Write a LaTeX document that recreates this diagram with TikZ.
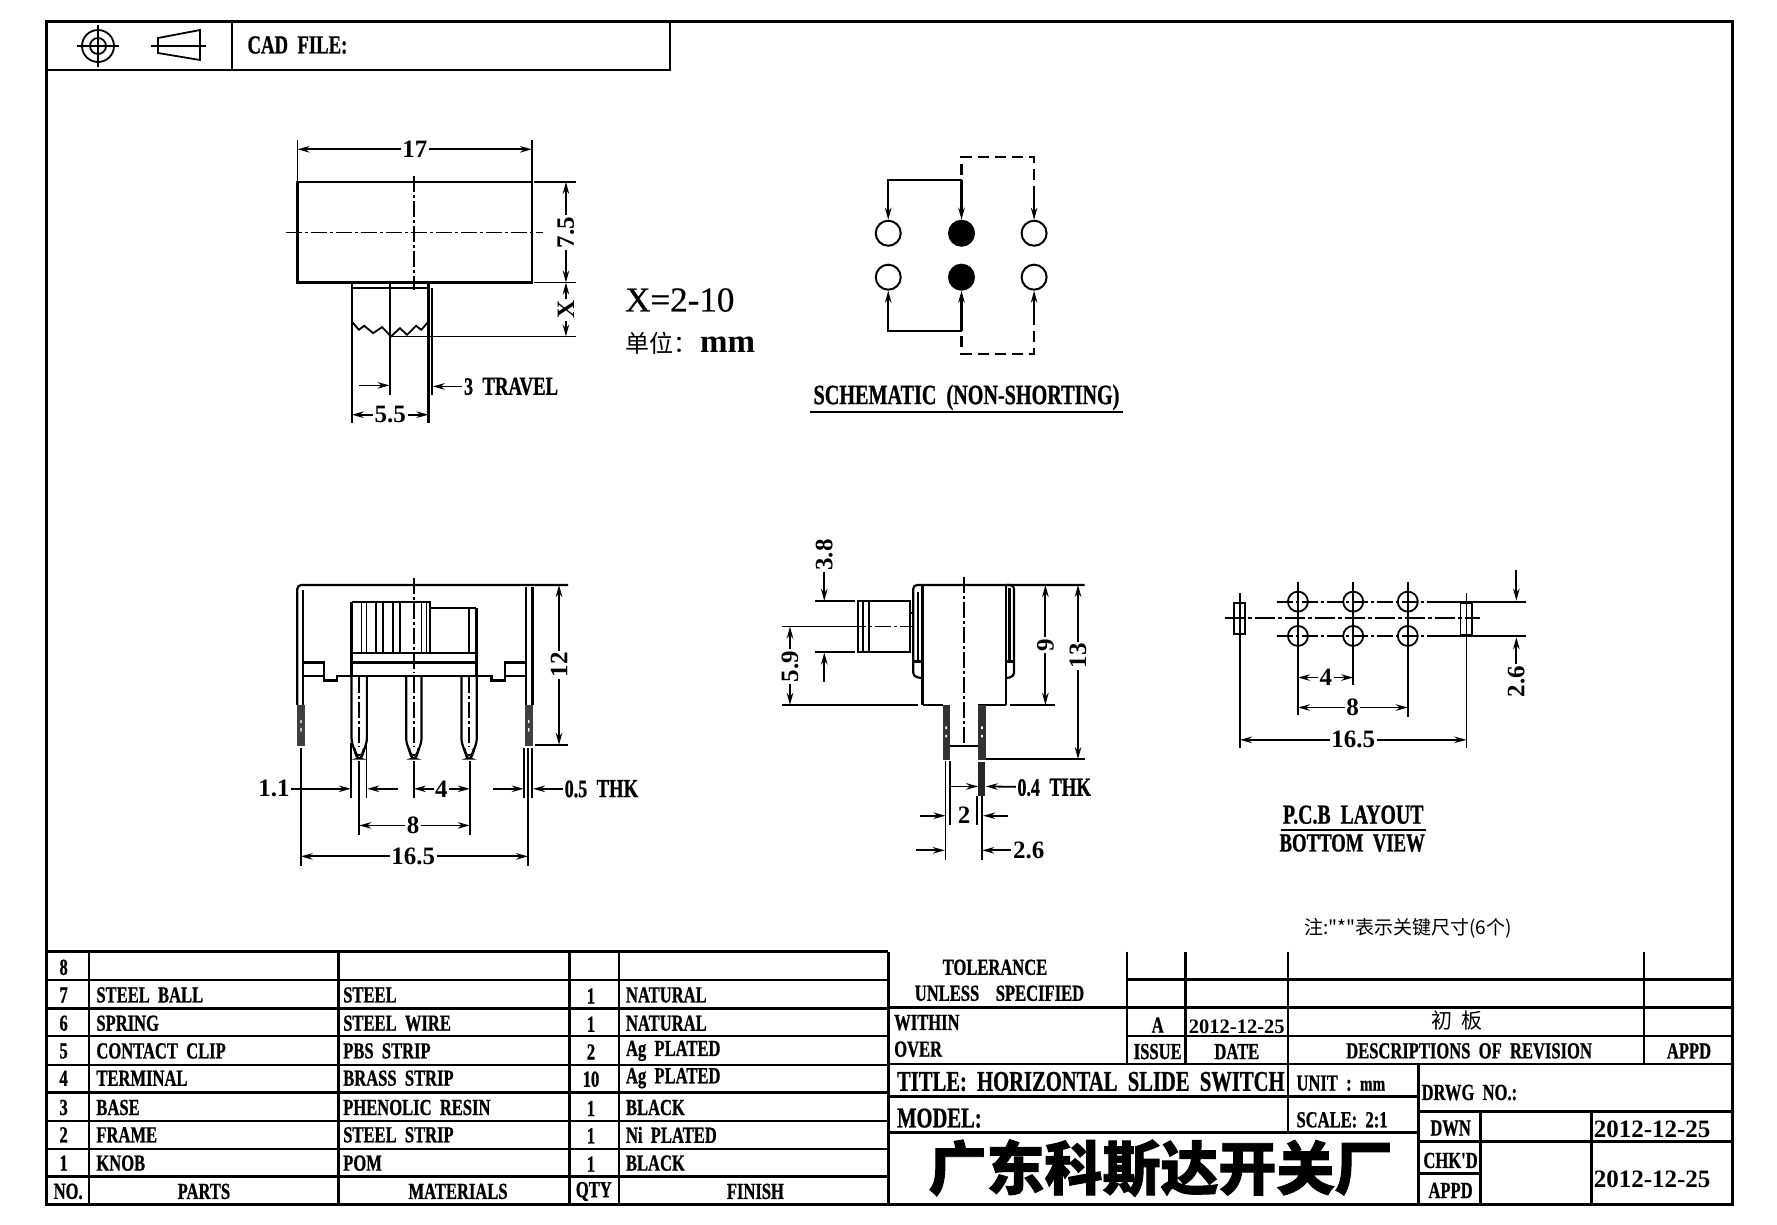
\documentclass[tikz,border=0pt]{standalone}
\usepackage{fontspec}
\setmainfont{Liberation Serif}
\newfontfamily\narrowfont[FakeStretch=0.72, BoldFeatures={FakeBold=0.8}]{Liberation Serif}
\newfontfamily\medfont[FakeBold=0.5]{Liberation Serif}
\newfontfamily\cjkfont[BoldFeatures={FakeBold=1.6}]{Noto Sans CJK SC}
\usetikzlibrary{arrows.meta, positioning, calc}

\begin{document}
\begin{tikzpicture}[x=1pt, y=-1pt, line cap=butt]
        \tikzset{
            partline/.style={line width=2.2pt},
            gridline/.style={line width=2.6pt},
            thinline/.style={line width=1.8pt},
            cenline/.style={line width=1.8pt, dash pattern=on 16pt off 3pt on 3pt off 3pt},
            dimarrow/.style={line width=1.8pt, -{Stealth[length=12pt, width=6.5pt]}},
            dimnum/.style={font=\bfseries\fontsize{25}{25}\selectfont, inner sep=1.5pt},
            dimtext/.style={font=\narrowfont\bfseries\fontsize{26}{26}\selectfont, inner sep=1.5pt, anchor=west},
            capt/.style={font=\narrowfont\bfseries\fontsize{27.5}{27.5}\selectfont, inner sep=0pt},
            cell/.style={font=\narrowfont\bfseries\fontsize{23}{23}\selectfont, inner sep=0pt},
            cellL/.style={cell, anchor=west},
            bigcell/.style={font=\narrowfont\bfseries\fontsize{28.6}{28.6}\selectfont, inner sep=0pt, anchor=west},
            datecell/.style={font=\bfseries\fontsize{25}{25}\selectfont, inner sep=0pt, anchor=west}
        }
        \useasboundingbox (0,0) rectangle (1777,1224);

        % --- SHEET FRAME ---
        \draw[line width=3pt] (46,21) rectangle (1732,1204);
        \draw[gridline] (46,70) -- (670,70) -- (670,21);
        \draw[gridline] (232,21) -- (232,70);
        \node[font=\narrowfont\bfseries\fontsize{26}{26}\selectfont, anchor=west] (cadfile) at (244,45) {CAD\ \ FILE:};

        % projection symbol
        \draw[thinline] (98,46) circle (16) (98,46) circle (8);
        \draw[thinline] (77,46) -- (119,46) (98,25) -- (98,67);
        \draw[thinline] (158,38) -- (200,30) -- (200,60) -- (158,53) -- cycle;
        \draw[thinline] (151,46) -- (206,46);

        % --- TOP VIEW ---
        \begin{scope}[shift={(250,120)}, x=0.357pt, y=-0.333pt]
            \draw[partline] (133,186) rectangle (790,488);
            \draw[cenline] (100,338) -- (822,338);
            \draw[cenline] (460,168) -- (460,510);
            \draw[thinline] (133,60) -- (133,186) (790,60) -- (790,186);
            \draw[thinline] (795,186) -- (912,186) (795,488) -- (912,488) (395,650) -- (912,650);
            \draw[partline] (285,488) -- (285,910) (500,488) -- (500,910) (285,505) -- (500,505);
            \draw[line width=2.8pt] (510,505) -- (510,825);
            \draw[thinline] (393,488) -- (393,825);
            \draw[thinline] (285,605) -- (305,630) -- (320,618) -- (345,640) -- (370,622) -- (395,650) -- (420,625) -- (440,645) -- (465,618) -- (480,630) -- (500,605);

            \node[dimnum] (wide) at (462,88) {17};
            \draw[dimarrow] (wide) -- (133,88);
            \draw[dimarrow] (wide) -- (790,88);
            \node[dimnum, rotate=90] (high) at (885,338) {7.5};
            \draw[dimarrow] (high) -- (885,186);
            \draw[dimarrow] (high) -- (885,488);
            \node[dimnum, rotate=90] (xlen) at (885,570) {X};
            \draw[dimarrow] (xlen) -- (885,488);
            \draw[dimarrow] (xlen) -- (885,650);
            \node[dimnum] (knob) at (393,885) {5.5};
            \draw[dimarrow] (knob) -- (285,885);
            \draw[dimarrow] (knob) -- (500,885);
            \node[dimtext] (travel) at (595,800) {{\bfseries\fontsize{25}{25}\selectfont 3}\ \ TRAVEL};
            \draw[dimarrow] (travel) -- (512,800);
            \coordinate (travelL) at (305,797);
            \draw[dimarrow] (travelL) -- (391,797);
        \end{scope}

        \node[font=\medfont\fontsize{35}{35}\selectfont, anchor=west, inner sep=0pt] (xrange) at (625,300) {X=2-10};
        \node[anchor=west, inner sep=0pt] (unit) at (625,343) {{\cjkfont\fontsize{24}{24}\selectfont 单位：}\kern3pt{\bfseries\fontsize{33}{33}\selectfont mm}};

        % --- SCHEMATIC ---
        \begin{scope}[shift={(800,130)}, x=0.333pt, y=-0.333pt]
            \foreach \cx/\fillc in {265/white, 485/black, 703/white}
                \foreach \cy/\rr in {310/t, 442/b}
                    \node[draw, circle, line width=2pt, fill=\fillc, minimum size=25pt, inner sep=0pt] (pole\cx\rr) at (\cx,\cy) {};
            \draw[dimarrow, partline] (485,150) -| (pole265t);
            \draw[dimarrow, partline] (485,150) -- (pole485t);
            \draw[dimarrow, partline] (485,603) -| (pole265b);
            \draw[dimarrow, partline] (485,603) -- (pole485b);
            \draw[partline, dash pattern=on 11pt off 6pt] (485,135) |- (703,82) -- (703,200);
            \draw[partline, dash pattern=on 11pt off 6pt] (485,618) |- (703,672) -- (703,560);
            \draw[dimarrow] (703,200) -- (pole703t);
            \draw[dimarrow] (703,560) -- (pole703b);
            \node[capt, font=\narrowfont\bfseries\fontsize{28}{28}\selectfont] (schem) at (500,803) {SCHEMATIC\ \ (NON-SHORTING)};
            \draw[partline] (30,847) -- (970,847);
        \end{scope}

        % --- FRONT VIEW ---
        \begin{scope}[shift={(250,570)}, x=0.333pt, y=-0.333pt]
            \draw[partline, rounded corners=4pt] (142,405) -- (142,45) -- (955,45);
            \draw[partline] (160,405) -- (160,60);
            \draw[partline] (828,405) -- (828,50);
            \draw[line width=2.8pt] (848,405) -- (848,50);
            \foreach \tx in {142, 826} {
                \fill[black!75] (\tx,405) rectangle ++(23,123);
                \fill[white] (\tx+9,450) rectangle ++(4,10) (\tx+9,475) rectangle ++(4,10);
            }
            % base
            \draw[partline] (160,318) -- (222,318) (160,278) -- (222,278) -- (222,332) -- (262,332) -- (262,318) -- (725,318) -- (725,332) -- (765,332) -- (765,278) -- (828,278) (765,318) -- (828,318);
            \draw[partline] (305,97) -- (305,318) (680,113) -- (680,318) (305,278) -- (680,278) (305,250) -- (680,250);
            % knob
            \draw[partline] (305,97) -- (540,97) -- (540,250) (540,113) -- (680,113) (658,113) -- (658,250);
            \foreach \rx in {335, 350, 378, 400, 430, 450, 515, 530}
                \draw[thinline] (\rx,97) -- (\rx,250);
            \draw[cenline] (492,25) -- (492,310);
            % pins
            \foreach \cx in {328, 492, 658} {
                \draw[partline, rounded corners=3pt] (\cx-23,318) -- (\cx-23,515) -- (\cx-6,566) -- (\cx+6,566) -- (\cx+23,515) -- (\cx+23,318);
                \draw[thinline] (\cx-14,535) .. controls (\cx-8,556) .. (\cx,556) .. controls (\cx+8,556) .. (\cx+14,535);
                \draw[cenline] (\cx,320) -- (\cx,530);
            }
            % extension lines
            \draw[thinline] (152,535) -- (152,890) (835,535) -- (835,890) (822,535) -- (822,685) (848,535) -- (848,685);
            \draw[thinline] (303,520) -- (303,685) (350,520) -- (350,685) (328,575) -- (328,795) (660,575) -- (660,795) (492,575) -- (492,685);
            \draw[thinline] (855,525) -- (955,525);

            \node[dimnum] (pitchA) at (72,657) {1.1};
            \draw[dimarrow] (pitchA) -- (303,657);
            \coordinate (pitchB) at (445,657);
            \draw[dimarrow] (pitchB) -- (352,657);
            \node[dimnum] (pinfour) at (575,657) {4};
            \draw[dimarrow] (pinfour) -- (492,657);
            \draw[dimarrow] (pinfour) -- (660,657);
            \coordinate (thkL) at (730,657);
            \draw[dimarrow] (thkL) -- (822,657);
            \node[dimtext] (thk) at (940,657) {{\bfseries\fontsize{25}{25}\selectfont 0.5}\ \ THK};
            \draw[dimarrow] (thk) -- (850,657);
            \node[dimnum] (pineight) at (490,767) {8};
            \draw[dimarrow] (pineight) -- (328,767);
            \draw[dimarrow] (pineight) -- (660,767);
            \node[dimnum] (span) at (490,860) {16.5};
            \draw[dimarrow] (span) -- (152,860);
            \draw[dimarrow] (span) -- (835,860);
            \node[dimnum, rotate=90] (height) at (928,285) {12};
            \draw[dimarrow] (height) -- (928,45);
            \draw[dimarrow] (height) -- (928,525);
        \end{scope}

        % --- SIDE VIEW ---
        \begin{scope}[shift={(770,530)}, x=0.333pt, y=-0.333pt]
            \draw[partline] (458,165) -- (458,525) (708,165) -- (708,525);
            \draw[partline, rounded corners=4pt] (458,445) -- (430,440) -- (430,165) -- (945,165);
            \draw[partline, rounded corners=4pt] (708,445) -- (733,440) -- (733,165) -- (708,165);
            \draw[partline] (445,185) -- (445,395) (430,395) -- (458,395);
            \draw[line width=2.8pt] (720,175) -- (720,395);
            \draw[partline] (708,395) -- (733,395);
            \draw[partline] (35,525) -- (445,525) (458,525) -- (520,525) (625,525) -- (708,525) (720,525) -- (855,525);
            % knob
            \draw[partline] (265,213) rectangle (420,367);
            \draw[thinline] (280,213) -- (280,367) (298,213) -- (298,367) (420,250) -- (430,250);
            \draw[thinline] (135,213) -- (255,213) (135,367) -- (255,367);
            \draw[thinline] (35,290) -- (240,290);
            \draw[cenline] (240,290) -- (430,290);
            \draw[cenline] (583,140) -- (583,640);
            % terminals
            \fill[black!80] (520,525) rectangle (540,690);
            \fill[black!80] (625,525) rectangle (648,690);
            \fill[black!85] (625,697) rectangle (645,800);
            \fill[white] (527,590) rectangle ++(5,8) (527,615) rectangle ++(5,8) (634,590) rectangle ++(5,8) (634,615) rectangle ++(5,8);
            \draw[partline] (540,648) -- (625,648);
            \draw[thinline] (527,695) -- (527,990) (540,695) -- (540,885) (622,800) -- (622,885) (637,800) -- (637,990);
            \draw[thinline] (650,688) -- (945,688);

            \node[dimnum, rotate=90] (knobA) at (163,75) {3.8};
            \draw[dimarrow] (knobA) -- (163,213);
            \coordinate (knobB) at (163,455);
            \draw[dimarrow] (knobB) -- (163,368);
            \node[dimnum, rotate=90] (knobC) at (60,410) {5.9};
            \draw[dimarrow] (knobC) -- (60,290);
            \draw[dimarrow] (knobC) -- (60,525);
            \node[dimnum, rotate=90] (sideA) at (827,345) {9};
            \draw[dimarrow] (sideA) -- (827,165);
            \draw[dimarrow] (sideA) -- (827,525);
            \node[dimnum, rotate=90] (sideB) at (925,378) {13};
            \draw[dimarrow] (sideB) -- (925,165);
            \draw[dimarrow] (sideB) -- (925,688);
            \coordinate (thinL) at (540,770);
            \draw[dimarrow] (thinL) -- (625,770);
            \node[dimtext] (thin) at (738,773) {{\bfseries\fontsize{25}{25}\selectfont 0.4}\ \ THK};
            \draw[dimarrow] (thin) -- (648,770);
            \node[dimnum] (legA) at (583,858) {2};
            \coordinate (legAL) at (450,858);
            \coordinate (legAR) at (715,858);
            \draw[dimarrow] (legAL) -- (527,858);
            \draw[dimarrow] (legAR) -- (640,858);
            \coordinate (legBL) at (438,962);
            \draw[dimarrow] (legBL) -- (525,962);
            \node[dimnum, anchor=west] (legB) at (725,962) {2.6};
            \draw[dimarrow] (legB) -- (637,962);
        \end{scope}

        % --- PCB LAYOUT ---
        \begin{scope}[shift={(1210,560)}, x=0.333pt, y=-0.333pt]
            \draw[thinline] (72,128) rectangle (105,222) (752,128) rectangle (787,225);
            \draw[line width=2.4pt, dash pattern=on 20pt off 3pt on 4pt off 3pt] (45,175) -- (810,175);
            \draw[cenline] (200,125) -- (665,125) (200,228) -- (665,228);
            \draw[thinline] (665,125) -- (950,125) (665,228) -- (950,228);
            \foreach \cx in {264, 430, 594}
                \foreach \cy in {125, 228}
                    \node[draw, circle, thinline, minimum size=20pt, inner sep=0pt] (hole\cx\cy) at (\cx,\cy) {};
            \draw[thinline] (264,65) -- (264,465) (430,65) -- (430,375) (594,65) -- (594,470);
            \draw[thinline] (90,100) -- (90,565) (770,100) -- (770,565);

            \node[dimnum] (gapA) at (348,353) {4};
            \draw[dimarrow] (gapA) -- (264,353);
            \draw[dimarrow] (gapA) -- (430,353);
            \node[dimnum] (gapB) at (428,443) {8};
            \draw[dimarrow] (gapB) -- (264,443);
            \draw[dimarrow] (gapB) -- (594,443);
            \node[dimnum] (gapC) at (430,540) {16.5};
            \draw[dimarrow] (gapC) -- (90,540);
            \draw[dimarrow] (gapC) -- (770,540);
            \coordinate (rowT) at (920,30);
            \draw[dimarrow] (rowT) -- (920,122);
            \node[dimnum, rotate=90] (rowB) at (920,365) {2.6};
            \draw[dimarrow] (rowB) -- (920,232);
            \node[capt] (layout) at (430,765) {P.C.B\ \ LAYOUT};
            \node[capt, font=\narrowfont\bfseries\fontsize{26}{26}\selectfont] (bottom) at (427,850) {BOTTOM\ \ VIEW};
            \draw[partline] (212,811) -- (650,811);
        \end{scope}

        \node[font=\cjkfont\fontsize{19}{19}\selectfont, inner sep=0pt] (keynote) at (1408,928) {注:"*"表示关键尺寸(6个)};

        % --- PARTS TABLE ---
        \begin{scope}[shift={(30,950)}, x=0.561pt, y=-0.333pt]
            \foreach \ry in {5, 90, 175, 258, 345, 428, 513, 597, 680}
                \draw[gridline] (28,\ry) -- (1530,\ry);
            \foreach \cx in {105, 550, 962, 1050, 1530}
                \draw[gridline] (\cx,5) -- (\cx,762);
            \foreach \ry/\no/\part/\mat/\qty/\fin in {
                52/8///,
                135/7/STEEL\ \ BALL/STEEL/1/NATURAL,
                220/6/SPRING/STEEL\ \ WIRE/1/NATURAL,
                303/5/CONTACT\ \ CLIP/PBS\ \ STRIP/2/Ag\ \ PLATED,
                385/4/TERMINAL/BRASS\ \ STRIP/10/Ag\ \ PLATED,
                473/3/BASE/PHENOLIC\ \ RESIN/1/BLACK,
                555/2/FRAME/STEEL\ \ STRIP/1/Ni\ \ PLATED,
                640/1/KNOB/POM/1/BLACK}
            {
                \node[cell] (no\no) at (60,\ry) {\no};
                \node[cellL] (part\no) at (118,\ry) {\part};
                \node[cellL] (mat\no) at (558,\ry) {\mat};
                \node[cell] (qty\no) at (1000,\ry+3) {\qty};
                \node[cellL] (fin\no) at (1062,\ry) {\fin};
            }
            \node[cell] (headno) at (68,725) {NO.};
            \node[cell] (headpart) at (310,725) {PARTS};
            \node[cell] (headmat) at (763,725) {MATERIALS};
            \node[cell] (headqty) at (1005,725) {QTY};
            \node[cell] (headfin) at (1293,725) {FINISH};
        \end{scope}

        % --- TITLE BLOCK ---
        \begin{scope}[shift={(880,950)}, x=0.561pt, y=-0.333pt]
            \foreach \ry in {88, 172, 258}
                \draw[gridline] (440,\ry) -- (1518,\ry);
            \draw[gridline] (14,172) -- (440,172) (14,342) -- (1518,342);
            \foreach \cx in {440, 545, 727}
                \draw[gridline] (\cx,5) -- (\cx,342);
            \draw[gridline] (1362,5) -- (1362,342);
            \draw[gridline] (14,440) -- (960,440) (14,548) -- (960,548);
            \draw[gridline] (727,342) -- (727,548) (960,342) -- (960,762);
            \draw[gridline] (960,485) -- (1518,485) (960,575) -- (1518,575) (960,672) -- (1070,672);
            \draw[gridline] (1070,485) -- (1070,762) (1268,485) -- (1268,762);

            \node[cell] (tol) at (205,52) {TOLERANCE};
            \node[cell] (unless) at (213,130) {UNLESS\ \ \ \ SPECIFIED};
            \node[cellL] (within) at (25,218) {WITHIN};
            \node[cellL] (over) at (25,298) {OVER};
            \node[cell] (issueA) at (495,225) {A};
            \node[font=\bfseries\fontsize{20.5}{20.5}\selectfont, inner sep=0pt] (dateA) at (636,230) {2012-12-25};
            \node[font=\cjkfont\fontsize{21}{21}\selectfont, inner sep=0pt] (first) at (1028,212) {初\ \ 板};
            \node[cell] (issue) at (495,305) {ISSUE};
            \node[cell] (date) at (636,305) {DATE};
            \node[cell] (desc) at (1050,303) {DESCRIPTIONS\ \ OF\ \ REVISION};
            \node[cell] (appdA) at (1442,303) {APPD};
            \node[bigcell] (title) at (30,395) {TITLE:\ \ HORIZONTAL\ \ SLIDE\ \ SWITCH};
            \node[cellL] (unitcell) at (742,400) {UNIT\ \ :\ \ {\bfseries\fontsize{21}{21}\selectfont mm}};
            \node[cellL] (drwg) at (965,428) {DRWG\ \ NO.:};
            \node[bigcell] (model) at (30,505) {MODEL:};
            \node[cellL] (scale) at (742,510) {SCALE:\ \ 2:1};
            \node[cell] (dwn) at (1017,535) {DWN};
            \node[cell] (chk) at (1017,632) {CHK'D};
            \node[cell] (appdB) at (1017,722) {APPD};
            \node[datecell] (dateB) at (1272,537) {2012-12-25};
            \node[datecell] (dateC) at (1272,688) {2012-12-25};
            \node[font=\cjkfont\bfseries\fontsize{58}{58}\selectfont, inner sep=0pt] (maker) at (500,655) {广东科斯达开关厂};
        \end{scope}

    \end{tikzpicture}
\end{document}
